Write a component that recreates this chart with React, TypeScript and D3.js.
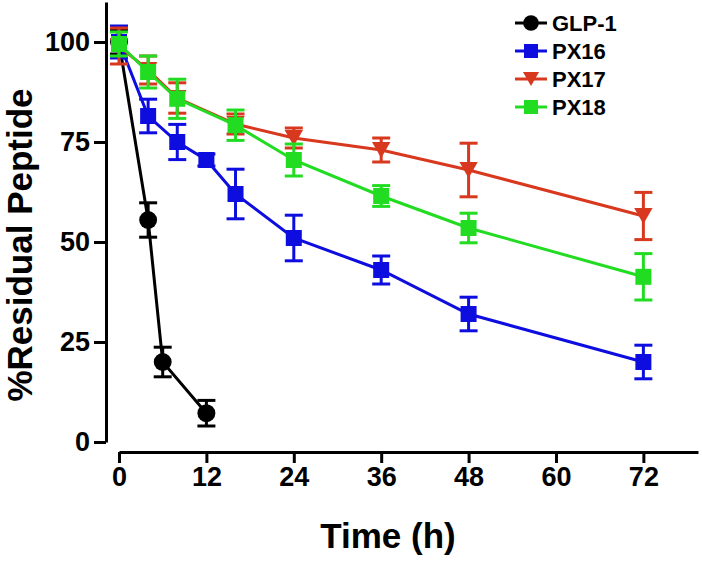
import React, { useEffect, useRef } from "react";
import * as d3 from "d3";

// time points (h) and mean / error values
const glpTime = [0, 4, 6, 12];
const glpMean = [100, 55.5, 20, 7.2];
const glpErr = [3, 4.3, 3.7, 3.2];

const px16Time = [0, 4, 8, 12, 16, 24, 36, 48, 72];
const px16Mean = [100, 81.5, 75, 70.5, 62, 51, 43, 32, 20];
const px16Err = [4, 4.2, 4.4, 1.5, 6.2, 5.7, 3.5, 4.2, 4.2];

const px17Time = [0, 4, 8, 16, 24, 36, 48, 72];
const px17Mean = [99, 93, 86, 79.5, 76, 73, 68, 56.5];
const px17Err = [4.5, 3.5, 3.8, 2.5, 2.5, 3, 6.7, 5.9];

const px18Time = [0, 4, 8, 16, 24, 36, 48, 72];
const px18Mean = [99.5, 92.5, 85.8, 79.2, 70.5, 61.5, 53.5, 41.3];
const px18Err = [3, 4, 4.9, 3.8, 4, 2.6, 3.7, 5.8];

const xTicks = [0, 12, 24, 36, 48, 60, 72];
const yTicks = [0, 25, 50, 75, 100];

type Pt = { t: number; v: number; e: number };
const zip = (t: number[], v: number[], e: number[]): Pt[] =>
  t.map((d, i) => ({ t: d, v: v[i], e: e[i] }));

const series = [
  { name: "GLP-1", color: "#000000", shape: "circle", data: zip(glpTime, glpMean, glpErr) },
  { name: "PX16", color: "#0d0de0", shape: "square", data: zip(px16Time, px16Mean, px16Err) },
  { name: "PX17", color: "#d8381d", shape: "triangle", data: zip(px17Time, px17Mean, px17Err) },
  { name: "PX18", color: "#22dc22", shape: "square", data: zip(px18Time, px18Mean, px18Err) },
];

const FONT = "'Liberation Sans', Arial, Helvetica, sans-serif";

function Marker({ shape, x, y, color, s }: any) {
  if (shape === "circle") return <circle cx={x} cy={y} r={s * 0.56} fill={color} />;
  if (shape === "square")
    return <rect x={x - s / 2} y={y - s / 2} width={s} height={s} fill={color} />;
  const w = s * 1.15;
  const h = s * 1.0;
  return (
    <path
      d={`M${x - w / 2},${y - h / 2}L${x + w / 2},${y - h / 2}L${x},${y + h / 2}Z`}
      fill={color}
    />
  );
}

export default function App() {
  const xAxisRef = useRef<SVGGElement>(null);
  const yAxisRef = useRef<SVGGElement>(null);

  const x = d3.scaleLinear().domain([0, 79.5]).range([119, 698]);
  const y = d3.scaleLinear().domain([0, 110]).range([442, 2]);

  const line = d3
    .line<Pt>()
    .x((d) => x(d.t))
    .y((d) => y(d.v));

  useEffect(() => {
    const xa = d3.select(xAxisRef.current);
    xa.call(d3.axisBottom(x).tickValues(xTicks).tickSize(11).tickSizeOuter(0).tickPadding(4));
    const ya = d3.select(yAxisRef.current);
    ya.call(d3.axisLeft(y).tickValues(yTicks).tickSize(12).tickSizeOuter(0).tickPadding(4));
    [xa, ya].forEach((g) => {
      g.select(".domain").attr("stroke", "#000").attr("stroke-width", 3);
      g.selectAll(".tick line").attr("stroke", "#000").attr("stroke-width", 3);
      g.selectAll(".tick text")
        .attr("fill", "#000")
        .style("font-family", FONT)
        .style("font-weight", "bold")
        .style("font-size", "27px");
    });
  }, []);

  return (
    <div style={{ position: "absolute", left: 0, top: 0 }}>
      <svg width={702} height={563} style={{ display: "block", background: "#fff" }}>
        <g ref={yAxisRef} transform="translate(106,0)" />
        <g ref={xAxisRef} transform="translate(0,452)" />

        {series.map((s) => (
          <g key={s.name}>
            <path d={line(s.data) || ""} fill="none" stroke={s.color} strokeWidth={3} />
            {s.data.map((d, i) => (
              <g key={i} stroke={s.color} strokeWidth={3}>
                <line x1={x(d.t)} x2={x(d.t)} y1={y(d.v + d.e)} y2={y(d.v - d.e)} />
                <line x1={x(d.t) - 9} x2={x(d.t) + 9} y1={y(d.v + d.e)} y2={y(d.v + d.e)} />
                <line x1={x(d.t) - 9} x2={x(d.t) + 9} y1={y(d.v - d.e)} y2={y(d.v - d.e)} />
              </g>
            ))}
            {s.data.map((d, i) => (
              <Marker key={"m" + i} shape={s.shape} x={x(d.t)} y={y(d.v)} color={s.color} s={16} />
            ))}
          </g>
        ))}

        {/* legend */}
        {series.map((s, i) => {
          const cy = 23 + i * 28;
          return (
            <g key={"lg" + s.name}>
              <line x1={515} x2={547} y1={cy} y2={cy} stroke={s.color} strokeWidth={3} />
              <Marker shape={s.shape} x={531} y={cy} color={s.color} s={14} />
              <text
                x={552}
                y={cy}
                dy="0.36em"
                fontFamily={FONT}
                fontWeight="bold"
                fontSize={22}
                fill="#000"
              >
                {s.name}
              </text>
            </g>
          );
        })}

        <text
          x={388}
          y={548}
          textAnchor="middle"
          fontFamily={FONT}
          fontWeight="bold"
          fontSize={35}
          fill="#000"
        >
          Time (h)
        </text>
        <text
          transform="translate(32,245) rotate(-90)"
          textAnchor="middle"
          fontFamily={FONT}
          fontWeight="bold"
          fontSize={35}
          fill="#000"
        >
          %Residual Peptide
        </text>
      </svg>
    </div>
  );
}
